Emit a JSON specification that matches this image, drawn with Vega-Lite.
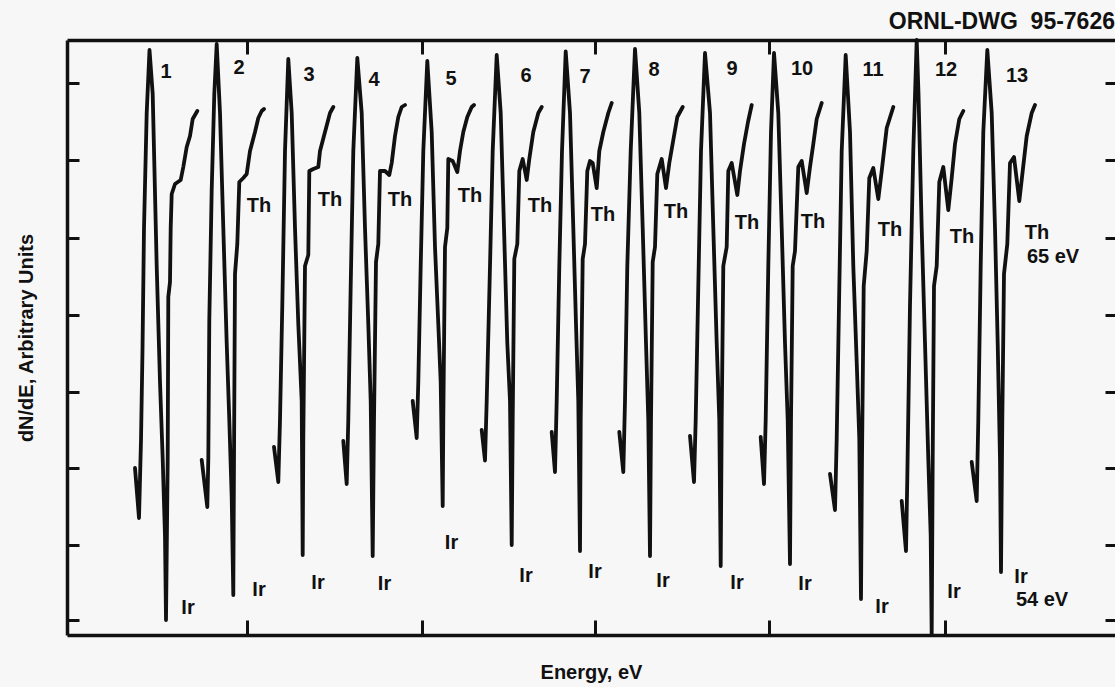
{
  "$schema": "https://vega.github.io/schema/vega-lite/v6.json",
  "width": 1048,
  "height": 595,
  "autosize": "none",
  "padding": {"left": 67, "top": 40, "right": 0, "bottom": 52},
  "background": "#f7f7f7",
  "view": {"stroke": null},
  "title": {
    "text": "ORNL-DWG\u00a0\u00a095-7626",
    "anchor": "end",
    "frame": "group",
    "font": "Liberation Sans",
    "fontSize": 23,
    "fontWeight": "bold",
    "color": "#111111",
    "offset": 4
  },
  "config": {
    "axis": {
      "labels": false,
      "grid": false,
      "tickColor": "#111111",
      "tickWidth": 3,
      "domainColor": "#111111",
      "domainWidth": 3.5,
      "titleFont": "Liberation Sans",
      "titleFontWeight": "bold",
      "titleColor": "#111111"
    }
  },
  "datasets": {
    "spectra": [
      {"t":1,"i":0,"e":68,"v":167},{"t":1,"i":1,"e":72,"v":117},{"t":1,"i":2,"e":74,"v":195},{"t":1,"i":3,"e":75.5,"v":285},{"t":1,"i":4,"e":77,"v":407},{"t":1,"i":5,"e":79.7,"v":522},{"t":1,"i":6,"e":82.5,"v":585},{"t":1,"i":7,"e":85.7,"v":541},{"t":1,"i":8,"e":89.7,"v":369},{"t":1,"i":9,"e":93,"v":253},{"t":1,"i":10,"e":95.7,"v":176},{"t":1,"i":11,"e":98,"v":99},{"t":1,"i":12,"e":99,"v":15},{"t":1,"i":13,"e":100.7,"v":176},{"t":1,"i":14,"e":101.3,"v":338},{"t":1,"i":15,"e":103,"v":353},{"t":1,"i":16,"e":103.7,"v":407},{"t":1,"i":17,"e":104.7,"v":441},{"t":1,"i":18,"e":108,"v":451},{"t":1,"i":19,"e":113.7,"v":455},{"t":1,"i":20,"e":116.3,"v":468},{"t":1,"i":21,"e":119.7,"v":488},{"t":1,"i":22,"e":123,"v":499},{"t":1,"i":23,"e":125.7,"v":516},{"t":1,"i":24,"e":130.3,"v":524},
      {"t":2,"i":0,"e":134.7,"v":175},{"t":2,"i":1,"e":140.3,"v":128},{"t":2,"i":2,"e":141.3,"v":176},{"t":2,"i":3,"e":142.3,"v":315},{"t":2,"i":4,"e":144.7,"v":445},{"t":2,"i":5,"e":147.3,"v":541},{"t":2,"i":6,"e":149.7,"v":591},{"t":2,"i":7,"e":153,"v":522},{"t":2,"i":8,"e":156.3,"v":407},{"t":2,"i":9,"e":159.7,"v":292},{"t":2,"i":10,"e":162.3,"v":215},{"t":2,"i":11,"e":164.7,"v":138},{"t":2,"i":12,"e":166.3,"v":40},{"t":2,"i":13,"e":167,"v":177},{"t":2,"i":14,"e":168,"v":361},{"t":2,"i":15,"e":170.3,"v":391},{"t":2,"i":16,"e":172.3,"v":453},{"t":2,"i":17,"e":176.3,"v":457},{"t":2,"i":18,"e":179.7,"v":461},{"t":2,"i":19,"e":183,"v":484},{"t":2,"i":20,"e":188,"v":503},{"t":2,"i":21,"e":191.3,"v":517},{"t":2,"i":22,"e":194.7,"v":524},{"t":2,"i":23,"e":197,"v":526},
      {"t":3,"i":0,"e":207,"v":188},{"t":3,"i":1,"e":211.3,"v":153},{"t":3,"i":2,"e":213,"v":215},{"t":3,"i":3,"e":215.3,"v":330},{"t":3,"i":4,"e":218,"v":484},{"t":3,"i":5,"e":221.3,"v":576},{"t":3,"i":6,"e":224.7,"v":522},{"t":3,"i":7,"e":228,"v":407},{"t":3,"i":8,"e":231.3,"v":311},{"t":3,"i":9,"e":234.7,"v":234},{"t":3,"i":10,"e":235.7,"v":80},{"t":3,"i":11,"e":236.3,"v":196},{"t":3,"i":12,"e":238,"v":369},{"t":3,"i":13,"e":241.3,"v":380},{"t":3,"i":14,"e":242.3,"v":464},{"t":3,"i":15,"e":246.3,"v":466},{"t":3,"i":16,"e":251.3,"v":468},{"t":3,"i":17,"e":253,"v":484},{"t":3,"i":18,"e":258,"v":503},{"t":3,"i":19,"e":263,"v":522},{"t":3,"i":20,"e":266.3,"v":528},
      {"t":4,"i":0,"e":276.3,"v":194},{"t":4,"i":1,"e":279.7,"v":151},{"t":4,"i":2,"e":281.3,"v":215},{"t":4,"i":3,"e":283.7,"v":349},{"t":4,"i":4,"e":286.3,"v":484},{"t":4,"i":5,"e":290.3,"v":577},{"t":4,"i":6,"e":294.7,"v":522},{"t":4,"i":7,"e":298,"v":407},{"t":4,"i":8,"e":301.3,"v":311},{"t":4,"i":9,"e":303.7,"v":234},{"t":4,"i":10,"e":305.7,"v":79},{"t":4,"i":11,"e":307,"v":215},{"t":4,"i":12,"e":309,"v":373},{"t":4,"i":13,"e":311.3,"v":391},{"t":4,"i":14,"e":313,"v":464},{"t":4,"i":15,"e":318,"v":464},{"t":4,"i":16,"e":322.3,"v":460},{"t":4,"i":17,"e":324.7,"v":472},{"t":4,"i":18,"e":328,"v":499},{"t":4,"i":19,"e":331.3,"v":518},{"t":4,"i":20,"e":334.7,"v":528},{"t":4,"i":21,"e":338,"v":530},
      {"t":5,"i":0,"e":345.7,"v":234},{"t":5,"i":1,"e":349.7,"v":197},{"t":5,"i":2,"e":351.3,"v":253},{"t":5,"i":3,"e":353.7,"v":369},{"t":5,"i":4,"e":356.3,"v":484},{"t":5,"i":5,"e":360.3,"v":574},{"t":5,"i":6,"e":364.7,"v":503},{"t":5,"i":7,"e":368,"v":388},{"t":5,"i":8,"e":371.3,"v":311},{"t":5,"i":9,"e":373.7,"v":253},{"t":5,"i":10,"e":375.7,"v":129},{"t":5,"i":11,"e":376.3,"v":215},{"t":5,"i":12,"e":378,"v":388},{"t":5,"i":13,"e":380.3,"v":407},{"t":5,"i":14,"e":381.3,"v":476},{"t":5,"i":15,"e":385.7,"v":474},{"t":5,"i":16,"e":390.3,"v":463},{"t":5,"i":17,"e":393,"v":484},{"t":5,"i":18,"e":396.3,"v":503},{"t":5,"i":19,"e":400.3,"v":518},{"t":5,"i":20,"e":404.7,"v":528},{"t":5,"i":21,"e":407,"v":530},
      {"t":6,"i":0,"e":414.7,"v":205},{"t":6,"i":1,"e":418,"v":174.5},{"t":6,"i":2,"e":419.7,"v":234},{"t":6,"i":3,"e":423,"v":369},{"t":6,"i":4,"e":425.7,"v":484},{"t":6,"i":5,"e":429.7,"v":580},{"t":6,"i":6,"e":433.7,"v":522},{"t":6,"i":7,"e":437,"v":407},{"t":6,"i":8,"e":440.3,"v":292},{"t":6,"i":9,"e":443,"v":234},{"t":6,"i":10,"e":444.7,"v":90},{"t":6,"i":11,"e":445.7,"v":215},{"t":6,"i":12,"e":447.3,"v":376},{"t":6,"i":13,"e":450.3,"v":391},{"t":6,"i":14,"e":452.3,"v":464},{"t":6,"i":15,"e":455.7,"v":476},{"t":6,"i":16,"e":459.7,"v":455},{"t":6,"i":17,"e":462.3,"v":476},{"t":6,"i":18,"e":466.3,"v":503},{"t":6,"i":19,"e":471.3,"v":522},{"t":6,"i":20,"e":474.7,"v":528},
      {"t":7,"i":0,"e":484.7,"v":203},{"t":7,"i":1,"e":488,"v":163},{"t":7,"i":2,"e":489.7,"v":234},{"t":7,"i":3,"e":492.3,"v":369},{"t":7,"i":4,"e":495,"v":484},{"t":7,"i":5,"e":498.7,"v":583.5},{"t":7,"i":6,"e":503,"v":522},{"t":7,"i":7,"e":506.3,"v":407},{"t":7,"i":8,"e":509,"v":311},{"t":7,"i":9,"e":511.3,"v":234},{"t":7,"i":10,"e":513,"v":84},{"t":7,"i":11,"e":513.7,"v":215},{"t":7,"i":12,"e":515.7,"v":376},{"t":7,"i":13,"e":518,"v":391},{"t":7,"i":14,"e":520.3,"v":464},{"t":7,"i":15,"e":523,"v":474},{"t":7,"i":16,"e":525.7,"v":472},{"t":7,"i":17,"e":529.7,"v":447},{"t":7,"i":18,"e":532.3,"v":484},{"t":7,"i":19,"e":536.3,"v":503},{"t":7,"i":20,"e":541.3,"v":522},{"t":7,"i":21,"e":544.7,"v":532},
      {"t":8,"i":0,"e":552.3,"v":203},{"t":8,"i":1,"e":556.3,"v":163},{"t":8,"i":2,"e":558,"v":234},{"t":8,"i":3,"e":560.3,"v":369},{"t":8,"i":4,"e":563.7,"v":484},{"t":8,"i":5,"e":568,"v":586},{"t":8,"i":6,"e":572.3,"v":522},{"t":8,"i":7,"e":575.7,"v":407},{"t":8,"i":8,"e":579,"v":292},{"t":8,"i":9,"e":581.3,"v":215},{"t":8,"i":10,"e":583,"v":79},{"t":8,"i":11,"e":584,"v":215},{"t":8,"i":12,"e":585.7,"v":373},{"t":8,"i":13,"e":588,"v":388},{"t":8,"i":14,"e":590.3,"v":461},{"t":8,"i":15,"e":594.7,"v":476},{"t":8,"i":16,"e":599,"v":447},{"t":8,"i":17,"e":602.3,"v":472},{"t":8,"i":18,"e":606.3,"v":495},{"t":8,"i":19,"e":610.3,"v":518},{"t":8,"i":20,"e":615.7,"v":528},
      {"t":9,"i":0,"e":623,"v":199},{"t":9,"i":1,"e":627,"v":153},{"t":9,"i":2,"e":628.7,"v":215},{"t":9,"i":3,"e":631.3,"v":349},{"t":9,"i":4,"e":634,"v":484},{"t":9,"i":5,"e":638,"v":582},{"t":9,"i":6,"e":643,"v":522},{"t":9,"i":7,"e":646.3,"v":407},{"t":9,"i":8,"e":649.7,"v":292},{"t":9,"i":9,"e":652.3,"v":215},{"t":9,"i":10,"e":653.7,"v":69},{"t":9,"i":11,"e":654.7,"v":215},{"t":9,"i":12,"e":656.3,"v":369},{"t":9,"i":13,"e":659.7,"v":388},{"t":9,"i":14,"e":661.3,"v":464},{"t":9,"i":15,"e":664.7,"v":472},{"t":9,"i":16,"e":670.3,"v":440},{"t":9,"i":17,"e":673,"v":464},{"t":9,"i":18,"e":677,"v":491},{"t":9,"i":19,"e":681,"v":513},{"t":9,"i":20,"e":684.7,"v":530},
      {"t":10,"i":0,"e":693.7,"v":198},{"t":10,"i":1,"e":697,"v":151},{"t":10,"i":2,"e":698.7,"v":215},{"t":10,"i":3,"e":701.3,"v":369},{"t":10,"i":4,"e":704,"v":503},{"t":10,"i":5,"e":707,"v":582},{"t":10,"i":6,"e":711.3,"v":522},{"t":10,"i":7,"e":714.7,"v":407},{"t":10,"i":8,"e":718,"v":292},{"t":10,"i":9,"e":720.7,"v":215},{"t":10,"i":10,"e":723,"v":71},{"t":10,"i":11,"e":724,"v":215},{"t":10,"i":12,"e":725.7,"v":369},{"t":10,"i":13,"e":728,"v":384},{"t":10,"i":14,"e":731.3,"v":468},{"t":10,"i":15,"e":734.7,"v":474},{"t":10,"i":16,"e":739.7,"v":442},{"t":10,"i":17,"e":743,"v":468},{"t":10,"i":18,"e":746.3,"v":491},{"t":10,"i":19,"e":749.7,"v":516},{"t":10,"i":20,"e":754.7,"v":532},
      {"t":11,"i":0,"e":763,"v":161},{"t":11,"i":1,"e":768,"v":125},{"t":11,"i":2,"e":769.7,"v":196},{"t":11,"i":3,"e":772,"v":330},{"t":11,"i":4,"e":774.7,"v":484},{"t":11,"i":5,"e":778.7,"v":580},{"t":11,"i":6,"e":783,"v":503},{"t":11,"i":7,"e":786.3,"v":369},{"t":11,"i":8,"e":789.7,"v":273},{"t":11,"i":9,"e":792.3,"v":196},{"t":11,"i":10,"e":794,"v":36},{"t":11,"i":11,"e":795,"v":177},{"t":11,"i":12,"e":796.7,"v":349},{"t":11,"i":13,"e":799.7,"v":384},{"t":11,"i":14,"e":802.3,"v":457},{"t":11,"i":15,"e":806.3,"v":467},{"t":11,"i":16,"e":811.3,"v":436},{"t":11,"i":17,"e":814.7,"v":464},{"t":11,"i":18,"e":819.7,"v":507},{"t":11,"i":19,"e":826.3,"v":528},
      {"t":12,"i":0,"e":834.7,"v":134},{"t":12,"i":1,"e":839,"v":84},{"t":12,"i":2,"e":840.3,"v":157},{"t":12,"i":3,"e":843,"v":330},{"t":12,"i":4,"e":846.3,"v":484},{"t":12,"i":5,"e":849.7,"v":595},{"t":12,"i":6,"e":851.5,"v":541},{"t":12,"i":7,"e":854.7,"v":407},{"t":12,"i":8,"e":858,"v":292},{"t":12,"i":9,"e":861.3,"v":176},{"t":12,"i":10,"e":863.7,"v":99},{"t":12,"i":11,"e":864.7,"v":0},{"t":12,"i":12,"e":865.7,"v":176},{"t":12,"i":13,"e":867,"v":349},{"t":12,"i":14,"e":869.7,"v":369},{"t":12,"i":15,"e":872.3,"v":453},{"t":12,"i":16,"e":876.3,"v":468},{"t":12,"i":17,"e":881.3,"v":425},{"t":12,"i":18,"e":884.7,"v":457},{"t":12,"i":19,"e":888,"v":491},{"t":12,"i":20,"e":892.3,"v":516},{"t":12,"i":21,"e":896.3,"v":524},
      {"t":13,"i":0,"e":904.7,"v":173},{"t":13,"i":1,"e":909.7,"v":134},{"t":13,"i":2,"e":911.3,"v":215},{"t":13,"i":3,"e":913.7,"v":369},{"t":13,"i":4,"e":916.3,"v":503},{"t":13,"i":5,"e":920.3,"v":585},{"t":13,"i":6,"e":924.7,"v":522},{"t":13,"i":7,"e":928,"v":407},{"t":13,"i":8,"e":930.7,"v":292},{"t":13,"i":9,"e":933,"v":176},{"t":13,"i":10,"e":934,"v":63},{"t":13,"i":11,"e":935.3,"v":215},{"t":13,"i":12,"e":937,"v":361},{"t":13,"i":13,"e":940.3,"v":391},{"t":13,"i":14,"e":943,"v":472},{"t":13,"i":15,"e":947,"v":478},{"t":13,"i":16,"e":952.3,"v":434},{"t":13,"i":17,"e":955.7,"v":464},{"t":13,"i":18,"e":959.7,"v":499},{"t":13,"i":19,"e":964.7,"v":522},{"t":13,"i":20,"e":968,"v":530}
    ],
    "numbers": [
      {"e":99,"v":563,"label":"1"},{"e":172,"v":567,"label":"2"},{"e":242,"v":560,"label":"3"},{"e":307,"v":555,"label":"4"},{"e":384,"v":556,"label":"5"},{"e":459,"v":559,"label":"6"},{"e":518,"v":558,"label":"7"},{"e":587,"v":565,"label":"8"},{"e":665,"v":566,"label":"9"},{"e":735,"v":566,"label":"10"},{"e":806,"v":565,"label":"11"},{"e":879,"v":565,"label":"12"},{"e":950,"v":559,"label":"13"}
    ],
    "elements": [
      {"e":192,"v":429,"label":"Th"},{"e":263,"v":435,"label":"Th"},{"e":333,"v":435,"label":"Th"},{"e":403,"v":439,"label":"Th"},{"e":473,"v":429,"label":"Th"},{"e":536,"v":420,"label":"Th"},{"e":609,"v":423,"label":"Th"},{"e":680,"v":412,"label":"Th"},{"e":746,"v":413,"label":"Th"},{"e":823,"v":405,"label":"Th"},{"e":895,"v":398,"label":"Th"},{"e":970,"v":402,"label":"Th"},{"e":986,"v":378,"label":"65 eV"},
      {"e":121,"v":27,"label":"Ir"},{"e":192,"v":45,"label":"Ir"},{"e":251,"v":52,"label":"Ir"},{"e":317.5,"v":51,"label":"Ir"},{"e":384.5,"v":92,"label":"Ir"},{"e":459,"v":59,"label":"Ir"},{"e":528,"v":63,"label":"Ir"},{"e":596,"v":54,"label":"Ir"},{"e":670,"v":52,"label":"Ir"},{"e":738,"v":51,"label":"Ir"},{"e":815,"v":28,"label":"Ir"},{"e":887,"v":43,"label":"Ir"},{"e":954,"v":58,"label":"Ir"},{"e":975,"v":35,"label":"54 eV"}
    ]
  },
  "layer": [
    {
      "data": {"name": "spectra"},
      "mark": {"type": "line", "color": "#111111", "strokeWidth": 3.8, "strokeJoin": "round", "strokeCap": "round"},
      "encoding": {
        "x": {
          "field": "e", "type": "quantitative",
          "scale": {"domain": [0, 1048], "nice": false, "zero": false},
          "axis": {"orient": "bottom", "values": [180, 355, 528, 702, 878], "tickSize": -15, "title": "Energy, eV", "titleFontSize": 20, "titlePadding": 26}
        },
        "y": {
          "field": "v", "type": "quantitative",
          "scale": {"domain": [0, 595], "nice": false, "zero": false},
          "axis": {"orient": "left", "values": [15, 90, 167, 243, 320, 397, 475, 552], "tickSize": -12, "title": "dN/dE, Arbitrary Units", "titleFontSize": 20, "titlePadding": 29}
        },
        "detail": {"field": "t", "type": "nominal"},
        "order": {"field": "i", "type": "quantitative"}
      }
    },
    {
      "data": {"name": "numbers"},
      "mark": {"type": "text", "font": "Liberation Sans", "fontWeight": "bold", "fontSize": 20, "color": "#111111", "align": "center", "baseline": "middle"},
      "encoding": {
        "x": {
          "field": "e", "type": "quantitative",
          "scale": {"domain": [0, 1048], "nice": false, "zero": false},
          "axis": {"orient": "top", "values": [180, 355, 528, 702, 878], "tickSize": -14, "title": null}
        },
        "y": {
          "field": "v", "type": "quantitative",
          "scale": {"domain": [0, 595], "nice": false, "zero": false},
          "axis": {"orient": "right", "values": [15, 90, 167, 243, 320, 397, 475, 552], "tickSize": -10, "domain": false, "title": null}
        },
        "text": {"field": "label"}
      }
    },
    {
      "data": {"name": "elements"},
      "mark": {"type": "text", "font": "Liberation Sans", "fontWeight": "bold", "fontSize": 20, "color": "#111111", "align": "center", "baseline": "middle"},
      "encoding": {
        "x": {"field": "e", "type": "quantitative", "scale": {"domain": [0, 1048], "nice": false, "zero": false}, "axis": null},
        "y": {"field": "v", "type": "quantitative", "scale": {"domain": [0, 595], "nice": false, "zero": false}, "axis": null},
        "text": {"field": "label"}
      }
    }
  ],
  "resolve": {"axis": {"x": "independent", "y": "independent"}}
}
